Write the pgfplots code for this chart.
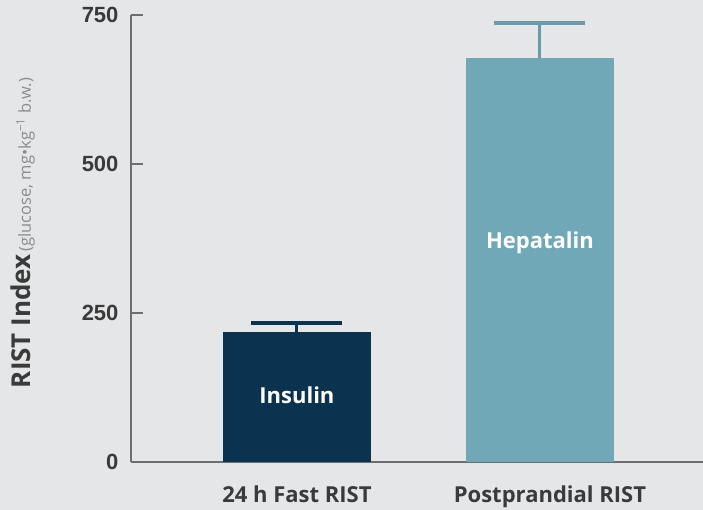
\documentclass[border=0pt]{standalone}
\usepackage{pgfplots}
\pgfplotsset{compat=1.18}
\usepackage{fontspec}
\setmainfont{Open Sans}
\newfontfamily\tickfont{Liberation Sans}

\definecolor{bg}{HTML}{E5E6E8}
\definecolor{navy}{HTML}{0B334F}
\definecolor{teal}{HTML}{70A8B8}
\definecolor{tealerr}{HTML}{6B9AAA}
\definecolor{axisgray}{HTML}{6E6E6E}
\definecolor{txtgray}{HTML}{3A3A3A}
\definecolor{lightgray}{HTML}{8C8C8C}

\begin{document}
\begin{tikzpicture}
\fill[bg] (-131pt,-48pt) rectangle (572pt,462pt);
\useasboundingbox (-131pt,-48pt) rectangle (572pt,462pt);
\begin{axis}[
  at={(0,0)}, anchor=south west,
  scale only axis, width=572pt, height=447pt,
  xmin=-0.683, xmax=1.671, ymin=0, ymax=750,
  axis x line*=bottom, axis y line*=left,
  axis line style={draw=axisgray, line width=2pt},
  ytick={0,250,500,750},
  tick align=inside, major tick length=12pt,
  xtick={0,1}, xticklabels={24 h Fast RIST, \hspace*{20pt}Postprandial RIST},
  x tick style={draw=none},
  y tick style={draw=axisgray, line width=2pt},
  /pgf/number format/assume math mode=true,
  yticklabel style={font=\tickfont\bfseries\fontsize{22}{24}\selectfont, text=txtgray, xshift=-9pt},
  xticklabel style={font=\bfseries\fontsize{22}{24}\selectfont, text=txtgray, yshift=-8pt},
  ybar, bar width=0.61, bar shift=0,
  clip=false,
]
\addplot[fill=navy, draw=none,
  error bars/.cd, y dir=plus, y explicit,
  error bar style={draw=navy, line width=3pt},
  error mark options={rotate=90, mark size=45.5pt, line width=4pt, draw=navy}]
  coordinates {(0,218) +- (0,15)};
\addplot[fill=teal, draw=none,
  error bars/.cd, y dir=plus, y explicit,
  error bar style={draw=tealerr, line width=3pt},
  error mark options={rotate=90, mark size=45.5pt, line width=4pt, draw=tealerr}]
  coordinates {(1,678) +- (0,59)};
\node[text=white, font=\bfseries\fontsize{22}{24}\selectfont] at (axis cs:0,112) {Insulin};
\node[text=white, font=\bfseries\fontsize{22}{24}\selectfont] at (axis cs:1,367) {Hepatalin};
\end{axis}
\node[rotate=90, anchor=center] at (-108pt,229pt)
  {{\bfseries\fontsize{26}{28}\selectfont\color{txtgray}RIST Index} {\fontsize{16.5}{20}\selectfont\color{lightgray}(glucose, mg•kg\textsuperscript{−1} b.w.)}};
\end{tikzpicture}
\end{document}
